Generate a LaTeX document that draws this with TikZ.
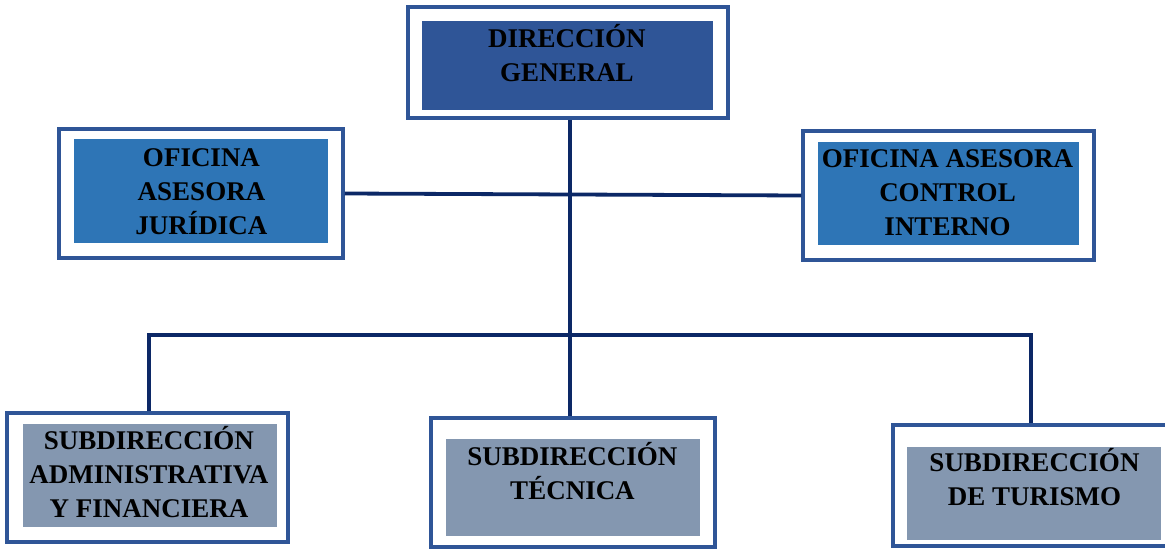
\documentclass[tikz,border=0pt]{standalone}
\usepackage{fontspec}
\setmainfont{Liberation Serif}
\definecolor{bordc}{RGB}{47,85,151}
\definecolor{connc}{RGB}{12,40,102}
\definecolor{topfill}{RGB}{47,85,151}
\definecolor{midfill}{RGB}{46,117,182}
\definecolor{lowfill}{RGB}{132,151,176}
\begin{document}
\begin{tikzpicture}[x=1pt,y=-1pt,
  outerbox/.style={draw=bordc, line width=3.5pt, fill=white, inner sep=0pt, rectangle},
  innerbox/.style={draw=none, inner sep=0pt, rectangle},
  lbl/.style={inner sep=0pt, align=center, text=black, font=\fontsize{27}{34}\selectfont\bfseries},
  conn/.style={draw=connc, line width=3.8pt}]
\useasboundingbox (0,0) rectangle (1165,551);
\clip (0,0) rectangle (1165,551);
\fill[white] (0,0) rectangle (1165,551);

% boxes
\node[outerbox, minimum width=320pt, minimum height=111pt] (dg) at (568,62.5) {};
\node[innerbox, fill=topfill, minimum width=291pt, minimum height=89pt] (dgin) at (567.5,65.5) {};
\node[lbl] (dgt) at (567,57.4) {\strut DIRECCIÓN\\\strut GENERAL};

\node[outerbox, minimum width=284pt, minimum height=129pt] (oaj) at (201,193.5) {};
\node[innerbox, fill=midfill, minimum width=254pt, minimum height=104pt] (oajin) at (201,191) {};
\node[lbl] (oajt) at (201.5,193.2) {\strut OFICINA\\\strut ASESORA\\\strut JURÍDICA};

\node[outerbox, minimum width=291pt, minimum height=129pt] (oaci) at (948.5,195.5) {};
\node[innerbox, fill=midfill, minimum width=261pt, minimum height=103pt] (oaciin) at (948.5,193.5) {};
\node[lbl] (oacit) at (947.5,195) {\strut OFICINA ASESORA\\\strut CONTROL\\\strut INTERNO};

\node[outerbox, minimum width=281pt, minimum height=129pt] (bl) at (147.5,477.5) {};
\node[innerbox, fill=lowfill, minimum width=254pt, minimum height=103pt] (blin) at (150,475.5) {};
\node[lbl] (blt) at (149,477) {\strut SUBDIRECCIÓN\\\strut ADMINISTRATIVA\\\strut Y FINANCIERA};

\node[outerbox, minimum width=284pt, minimum height=129pt] (bm) at (573,482.5) {};
\node[innerbox, fill=lowfill, minimum width=254pt, minimum height=97pt] (bmin) at (573,487.5) {};
\node[lbl] (bmt) at (572.5,476) {\strut SUBDIRECCIÓN\\\strut TÉCNICA};

\node[outerbox, minimum width=282pt, minimum height=121pt] (br) at (1034,485.5) {};
\node[innerbox, fill=lowfill, minimum width=254pt, minimum height=93pt] (brin) at (1034,493.5) {};
\node[lbl] (brt) at (1034.5,482) {\strut SUBDIRECCIÓN\\\strut DE TURISMO};

% connectors
\coordinate (trunk) at (570,0);
\coordinate (busL) at (149,335);
\coordinate (busR) at (1031,335);
\draw[conn] (oaj.east) -- (oaci.west);
\draw[conn] (dg.south -| trunk) -- (bm.north -| trunk);
\draw[conn, line join=miter] (bl.north -| busL) -- (busL) -- (busR) -- (br.north -| busR);
\end{tikzpicture}
\end{document}
